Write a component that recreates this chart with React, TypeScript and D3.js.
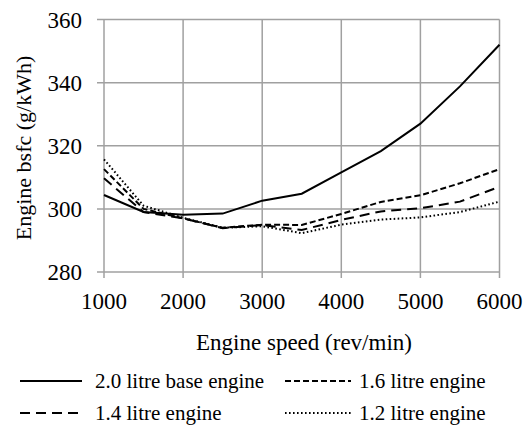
import React from "react";
import * as d3 from "d3";

const speeds = [1000, 1500, 2000, 2500, 3000, 3500, 4000, 4500, 5000, 5500, 6000];
const base20 = [304.4, 299.0, 298.1, 298.5, 302.6, 304.8, 311.6, 318.3, 327.0, 338.8, 352.0];
const eng16 = [312.6, 300.0, 297.0, 294.0, 295.0, 294.9, 298.4, 302.2, 304.3, 308.1, 312.6];
const eng14 = [309.7, 299.0, 297.0, 293.9, 294.9, 293.3, 296.5, 299.2, 300.2, 302.3, 307.0];
const eng12 = [315.7, 301.0, 297.2, 294.0, 294.5, 292.3, 295.0, 296.6, 297.3, 299.0, 302.3];
const xTicks = [1000, 2000, 3000, 4000, 5000, 6000];
const yTicks = [280, 300, 320, 340, 360];
const seriesNames = ["2.0 litre base engine", "1.6 litre engine", "1.4 litre engine", "1.2 litre engine"];

const FONT = "'Liberation Serif', 'Times New Roman', serif";

export default function App() {
  const x = d3.scaleLinear().domain([1000, 6000]).range([104, 499.5]);
  const y = d3.scaleLinear().domain([280, 360]).range([272, 19.5]);
  const line = d3
    .line<number>()
    .x((_, i) => x(speeds[i]))
    .y((d) => y(d));

  const styles = [
    { dash: "none", w: 2 },
    { dash: "6,3", w: 2 },
    { dash: "10,6", w: 2 },
    { dash: "1.6,2.4", w: 2 },
  ];
  const data = [base20, eng16, eng14, eng12];
  const grid = "#a0a0a0";

  const legendPos = [
    { lx: 20, ly: 381, len: 62, tx: 95 },
    { lx: 285, ly: 381, len: 66, tx: 359 },
    { lx: 20, ly: 413, len: 62, tx: 95 },
    { lx: 285, ly: 413, len: 66, tx: 359 },
  ];

  return (
    <svg width={528} height={425} style={{ position: "absolute", left: 0, top: 0 }}>
      <rect width={528} height={425} fill="#fff" />
      {xTicks.map((t) => (
        <line key={"gx" + t} x1={x(t)} x2={x(t)} y1={y(360)} y2={y(280) + 6} stroke={grid} strokeWidth={1.5} />
      ))}
      {yTicks.map((t) => (
        <line key={"gy" + t} x1={x(1000) - 7} x2={x(6000)} y1={y(t)} y2={y(t)} stroke={grid} strokeWidth={1.5} />
      ))}
      {yTicks.map((t) => (
        <text key={"ty" + t} x={x(1000) - 22} y={y(t)} dy="0.35em" textAnchor="end" fontFamily={FONT} fontSize={23} fill="#000">
          {t}
        </text>
      ))}
      {xTicks.map((t) => (
        <text key={"tx" + t} x={x(t)} y={301} dy="0.35em" textAnchor="middle" fontFamily={FONT} fontSize={23} fill="#000">
          {t}
        </text>
      ))}
      <text x={304} y={342} dy="0.35em" textAnchor="middle" fontFamily={FONT} fontSize={23} fill="#000">
        Engine speed (rev/min)
      </text>
      <text
        transform={`translate(23,148) rotate(-90)`}
        dy="0.35em"
        textAnchor="middle"
        fontFamily={FONT}
        fontSize={22}
        fill="#000"
      >
        Engine bsfc (g/kWh)
      </text>
      {data.map((d, i) => (
        <path
          key={"s" + i}
          d={line(d) || ""}
          fill="none"
          stroke="#000"
          strokeWidth={styles[i].w}
          strokeDasharray={styles[i].dash}
        />
      ))}
      {seriesNames.map((n, i) => (
        <g key={"l" + i}>
          <line
            x1={legendPos[i].lx}
            x2={legendPos[i].lx + legendPos[i].len}
            y1={legendPos[i].ly}
            y2={legendPos[i].ly}
            stroke="#000"
            strokeWidth={styles[i].w}
            strokeDasharray={styles[i].dash}
          />
          <text x={legendPos[i].tx} y={legendPos[i].ly} dy="0.35em" fontFamily={FONT} fontSize={21} fill="#000">
            {n}
          </text>
        </g>
      ))}
    </svg>
  );
}
